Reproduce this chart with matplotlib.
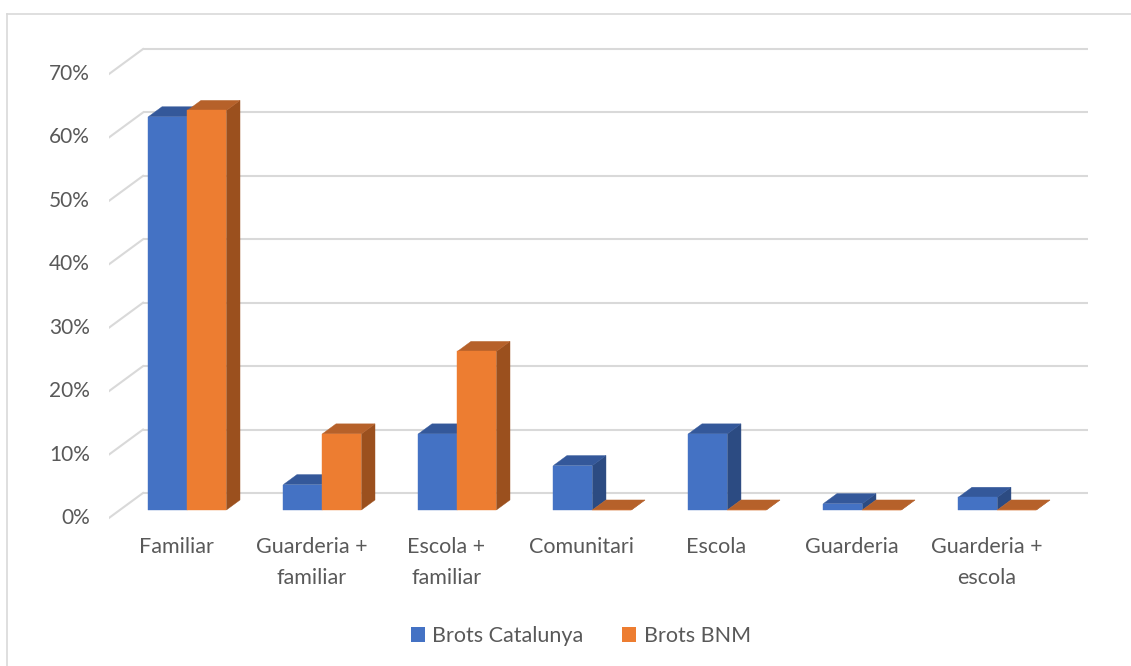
import matplotlib.pyplot as plt
from matplotlib.patches import Polygon, Patch
from matplotlib.lines import Line2D

categories = ['Familiar', 'Guarderia +\nfamiliar', 'Escola +\nfamiliar', 'Comunitari',
              'Escola', 'Guarderia', 'Guarderia +\nescola']
catalunya = [62, 4, 12, 7, 12, 1, 2]
bnm = [63, 12, 25, 0, 0, 0, 0]
yticks = [0, 10, 20, 30, 40, 50, 60, 70]

plt.rcParams['font.family'] = ['Lato', 'DejaVu Sans']

W, H = 1131, 666
fig = plt.figure(figsize=(W / 100, H / 100), dpi=100)

# pixel geometry of the 3d box (front plane)
px_left, px_right = 109, 1088
py_top, py_bot = 42.3, 524.3
ax = fig.add_axes([px_left / W, (H - py_bot) / H, (px_right - px_left) / W, (py_bot - py_top) / H])
DX, DY = 0.252, 3.94          # full depth offset, in data units
ax.set_xlim(-0.5, 6.5 + DX)
ax.set_ylim(-1, 75)
ax.axis('off')

txt_c = '#595959'
fs = 15.5
grid_c = '#D9D9D9'
for v in yticks:
    ax.plot([-0.5 + DX, 6.5 + DX], [v + DY, v + DY], color=grid_c, lw=1.5, zorder=1, solid_capstyle='butt')
    ax.plot([-0.5, -0.5 + DX], [v, v + DY], color=grid_c, lw=1.5, zorder=1)
    ax.text(-0.64, v, f'{v}%', ha='right', va='center', fontsize=15, color=txt_c)

w = 0.289
d0, d1 = 0.32, 0.72


def bar3d(x0, v, front, top, side):
    ox0, oy0 = d0 * DX, d0 * DY
    ox1, oy1 = d1 * DX, d1 * DY
    faces = [
        ([(x0 + w + ox0, oy0), (x0 + w + ox1, oy1), (x0 + w + ox1, v + oy1), (x0 + w + ox0, v + oy0)], side),
        ([(x0 + ox0, v + oy0), (x0 + w + ox0, v + oy0), (x0 + w + ox1, v + oy1), (x0 + ox1, v + oy1)], top),
        ([(x0 + ox0, oy0), (x0 + w + ox0, oy0), (x0 + w + ox0, v + oy0), (x0 + ox0, v + oy0)], front),
    ]
    for pts, c in faces:
        ax.add_patch(Polygon(pts, closed=True, facecolor=c, edgecolor=c, lw=0.3, zorder=3, clip_on=False))


for i in range(len(categories)):
    bar3d(i - w, catalunya[i], '#4472C4', '#34589A', '#2C4B82')
    bar3d(i, bnm[i], '#ED7D31', '#B6612A', '#9B501E')
    ax.text(i, -3.0, categories[i], ha='center', va='top', fontsize=fs, color=txt_c,
            linespacing=1.7)

handles = [Patch(facecolor='#4472C4', label='Brots Catalunya'),
           Patch(facecolor='#ED7D31', label='Brots BNM')]
fig.legend(handles=handles, loc='center', bbox_to_anchor=(581 / W, 1 - 636 / H), ncol=2,
           frameon=False, fontsize=fs, handlelength=0.65, handleheight=0.65, columnspacing=1.8,
           handletextpad=0.35, labelcolor=txt_c)

# chart border (left and top edges visible)
fig.add_artist(Line2D([7 / W, 7 / W], [0, 1 - 14 / H], color='#D9D9D9', lw=1.2))
fig.add_artist(Line2D([7 / W, 1], [1 - 14 / H, 1 - 14 / H], color='#D9D9D9', lw=1.2))

fig.savefig('out.png', dpi=100)
